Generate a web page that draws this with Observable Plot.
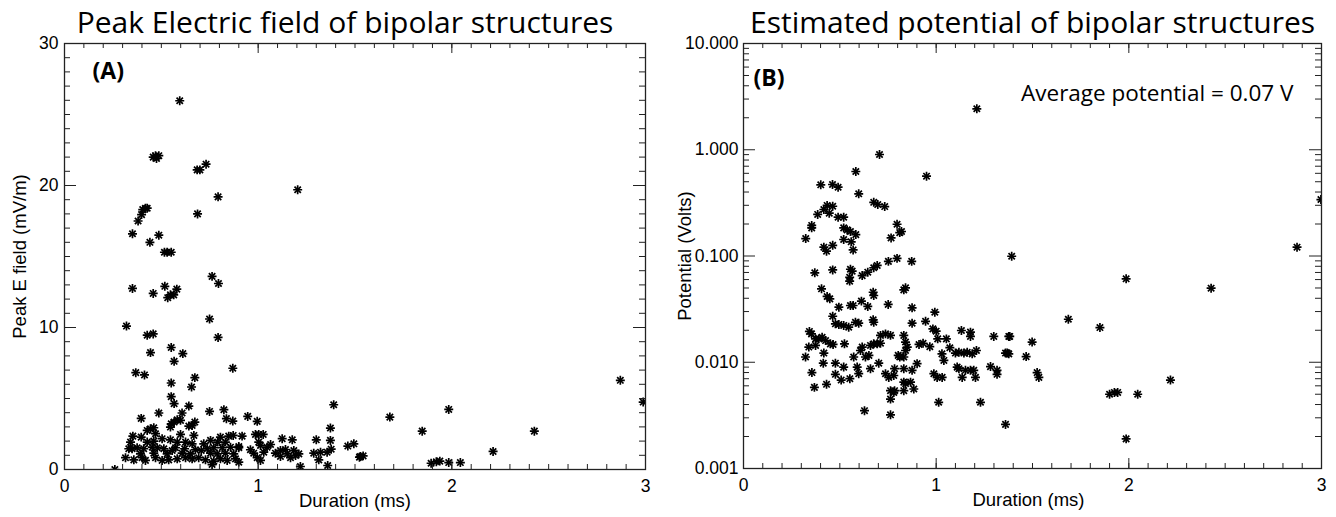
<!DOCTYPE html>
<html>
<head>
<meta charset="utf-8">
<script src="https://cdn.jsdelivr.net/npm/d3@7"></script>
<script src="https://cdn.jsdelivr.net/npm/@observablehq/plot@0.6"></script>
<style>
  html, body { margin: 0; padding: 0; background: #fff; }
  #wrap { position: relative; width: 1336px; height: 517px; overflow: hidden; }
  #wrap > div { position: absolute; top: 0; }
</style>
</head>
<body>
<div id="wrap"><div id="pa" style="left:0"></div><div id="pb" style="left:668px"></div></div>
<script>
// ---------- Data ----------
// Panel A: duration (ms) and peak E field (mV/m)
const durA = [
  0.595, 0.458, 0.470, 0.487, 0.475, 0.685, 0.699, 0.731, 1.204, 0.793,
  0.418, 0.427, 0.404, 0.398, 0.380, 0.687, 0.351, 0.487, 0.441, 0.516,
  0.530, 0.551, 0.762, 0.795, 0.351, 0.458, 0.518, 0.533, 0.547, 0.564,
  0.580, 0.320, 0.749, 0.427, 0.458, 0.793, 0.444, 0.551, 0.611, 0.566,
  0.368, 0.413, 0.869, 0.673, 0.551, 0.656, 0.551, 0.566, 0.642, 0.487,
  0.749, 0.823, 0.396, 0.582, 0.599, 0.551, 0.566, 0.607, 0.642, 0.659,
  0.673, 0.836, 0.869, 0.946, 0.995, 1.390, 1.373, 1.463, 1.494, 1.523,
  1.528, 1.542, 0.260, 1.680, 1.847, 1.984, 1.893, 1.920, 1.938, 1.984,
  2.044, 2.213, 2.426, 2.870, 2.988,
  0.547, 0.427, 0.444, 0.461, 0.353, 0.396, 0.470, 0.504, 0.547, 0.599,
  0.668, 0.754, 0.805, 0.848, 0.871, 0.917, 0.986, 1.003, 1.026, 1.124,
  1.176, 1.300, 1.373,
  0.332, 0.349, 0.375, 0.409, 0.453, 0.479, 0.513, 0.556, 0.573, 0.620,
  0.676, 0.706, 0.737, 0.771, 0.814, 0.857, 0.900, 0.960, 1.012, 1.046,
  1.064, 1.115, 1.141, 1.184, 1.287, 1.322, 1.356, 1.377,
  0.315, 0.358, 0.401, 0.418, 0.470, 0.504, 0.538, 0.582, 0.625, 0.659,
  0.693, 0.728, 0.762, 0.771, 0.805, 0.840, 0.883, 0.900, 0.995, 1.012,
  1.115, 1.167, 1.210, 1.218, 1.313, 1.359,
  0.392, 0.461, 0.530, 0.607, 0.650, 0.754, 0.788, 0.831, 0.874, 0.977,
  1.029, 1.089, 1.150, 1.193,
  0.341, 0.427, 0.461, 0.582, 0.625, 0.659, 0.719, 0.791, 0.831, 0.900, 1.003
];
const fieldA = [
  25.97, 22.0, 22.1, 22.1, 21.9, 21.1, 21.1, 21.5, 19.7, 19.2,
  18.4, 18.4, 18.3, 17.95, 17.5, 18.0, 16.6, 16.5, 16.0, 15.3,
  15.3, 15.3, 13.6, 13.1, 12.75, 12.4, 12.9, 12.1, 12.3, 12.3,
  12.7, 10.1, 10.6, 9.46, 9.55, 9.3, 8.23, 8.59, 8.16, 7.62,
  6.82, 6.66, 7.13, 6.47, 6.09, 5.81, 5.13, 4.64, 4.47, 3.98,
  4.09, 4.21, 3.6, 3.5, 3.46, 3.22, 3.34, 3.98, 3.06, 3.1,
  3.34, 3.58, 3.41, 3.74, 3.39, 4.56, 2.92, 1.65, 1.81, 0.87,
  0.92, 0.96, 0.0, 3.69, 2.70, 4.23, 0.44, 0.54, 0.59, 0.49,
  0.49, 1.27, 2.70, 6.28, 4.75,
  2.99, 2.75, 2.87, 2.94, 2.35, 2.28, 2.52, 2.17, 2.09, 2.47,
  2.4, 2.05, 2.28, 2.35, 2.4, 2.35, 2.47, 2.47, 2.47, 2.17,
  2.09, 2.09, 2.05,
  1.46, 1.46, 1.53, 1.46, 1.57, 1.53, 1.46, 1.34, 1.53, 1.46,
  1.39, 1.34, 1.46, 1.53, 1.53, 1.57, 1.53, 1.39, 1.69, 1.57,
  1.76, 1.34, 1.41, 1.34, 1.15, 1.22, 1.22, 1.43,
  0.83, 0.68, 0.83, 0.64, 0.83, 0.64, 0.68, 0.75, 0.83, 0.75,
  0.83, 0.68, 0.35, 0.59, 0.75, 0.64, 0.75, 0.52, 0.83, 0.64,
  0.92, 0.83, 1.1, 0.21, 0.68, 0.28,
  1.1, 1.15, 1.1, 1.15, 1.1, 1.15, 1.1, 1.15, 1.1, 1.15,
  1.22, 1.15, 1.1, 0.99,
  1.93, 1.93, 2.0, 1.93, 1.93, 1.81, 1.81, 1.93, 1.93, 1.62, 1.93
];

// Panel B: duration (ms) and estimated potential (V)
const durB = [
  1.211, 0.706, 0.950, 0.583, 0.401, 0.462, 0.491, 0.598, 0.676, 0.697,
  0.733, 0.434, 0.463, 0.385, 0.417, 0.445, 0.491, 0.520, 0.354, 0.354,
  0.520, 0.538, 0.555, 0.583, 0.797, 0.811, 0.766, 0.820, 0.323, 0.520,
  0.559, 0.569, 0.417, 0.431, 0.463, 1.392, 0.752, 0.797, 0.873, 0.370,
  0.463, 0.555, 0.564, 0.551, 0.551, 0.616, 0.645, 0.676, 0.694, 0.405,
  0.434, 0.448, 0.495, 0.555, 0.569, 0.612, 0.645, 0.673, 0.676, 0.751,
  0.832, 0.841, 0.875, 0.993, 0.463, 0.945, 0.875, 0.477, 0.495, 0.520,
  0.546, 0.581, 0.598, 0.673, 0.676, 0.342, 0.353, 0.391, 0.408, 0.426,
  0.451, 0.465, 0.711, 0.737, 0.763, 0.832, 0.841, 0.983, 1.000, 1.008,
  1.053, 1.131, 1.178, 1.178, 1.299, 1.377, 1.498, 0.322, 0.339, 0.374,
  0.374, 0.417, 0.414, 0.477, 0.524, 0.520, 0.477, 0.507, 0.552, 0.368,
  0.431, 0.355, 0.572, 0.607, 0.616, 0.590, 0.598, 0.633, 0.651, 0.659,
  0.659, 0.676, 0.694, 0.711, 0.702, 0.737, 0.754, 0.780, 0.803, 0.811,
  0.832, 0.841, 0.850, 0.784, 0.832, 0.875, 0.901, 0.763, 0.780, 0.832,
  0.841, 0.867, 0.884, 0.832, 0.911, 0.932, 0.967, 1.030, 1.040, 1.071,
  1.100, 1.118, 1.144, 1.161, 1.187, 1.209, 1.109, 1.118, 1.135, 1.152,
  1.178, 1.195, 1.204, 0.988, 1.005, 1.031, 1.282, 1.316, 1.316, 1.369,
  1.377, 1.467, 1.524, 1.533, 1.013, 1.230, 1.360, 0.628, 0.763, 0.763,
  0.784, 2.997, 2.873, 1.986, 2.427, 1.686, 1.850, 1.382, 1.360, 2.216,
  1.900, 1.925, 1.942, 2.046, 1.986
];
const potB = [
  2.43, 0.902, 0.564, 0.624, 0.468, 0.471, 0.444, 0.385, 0.32, 0.305,
  0.292, 0.299, 0.294, 0.246, 0.274, 0.253, 0.232, 0.232, 0.194, 0.184,
  0.184, 0.176, 0.17, 0.159, 0.199, 0.166, 0.148, 0.17, 0.146, 0.143,
  0.136, 0.114, 0.121, 0.111, 0.126, 0.0995, 0.089, 0.095, 0.089, 0.0695,
  0.074, 0.075, 0.072, 0.063, 0.058, 0.0654, 0.0704, 0.0775, 0.0815, 0.0491,
  0.0416, 0.0395, 0.033, 0.0342, 0.0342, 0.0376, 0.0335, 0.0456, 0.0425, 0.035,
  0.048, 0.0502, 0.0325, 0.0296, 0.0271, 0.0243, 0.0233, 0.023, 0.0227, 0.0222,
  0.0214, 0.0238, 0.0233, 0.0251, 0.0238, 0.0195, 0.0185, 0.0166, 0.0172, 0.016,
  0.0149, 0.0147, 0.0179, 0.0185, 0.0179, 0.0179, 0.0155, 0.0206, 0.0196, 0.0166,
  0.0166, 0.0199, 0.0192, 0.0175, 0.0175, 0.0175, 0.0155, 0.0112, 0.0139, 0.0144,
  0.0166, 0.0122, 0.0098, 0.0098, 0.0149, 0.009, 0.0077, 0.0068, 0.007, 0.0058,
  0.0062, 0.008, 0.0112, 0.0129, 0.0139, 0.009, 0.0078, 0.0112, 0.0116, 0.0087,
  0.0144, 0.0149, 0.0149, 0.0151, 0.0098, 0.0078, 0.0072, 0.0075, 0.0116, 0.0112,
  0.0112, 0.0129, 0.0139, 0.0087, 0.0087, 0.0084, 0.0097, 0.0054, 0.0052, 0.0065,
  0.0063, 0.0065, 0.0056, 0.0054, 0.0147, 0.0151, 0.014, 0.012, 0.0104, 0.0137,
  0.0122, 0.0124, 0.0122, 0.0124, 0.012, 0.0129, 0.009, 0.0087, 0.0072, 0.0084,
  0.0084, 0.0084, 0.0072, 0.0078, 0.0072, 0.0072, 0.0091, 0.0084, 0.0077, 0.0122,
  0.012, 0.0113, 0.008, 0.0072, 0.0042, 0.0042, 0.0026, 0.0035, 0.0032, 0.0045,
  0.0054, 0.34, 0.121, 0.061, 0.0498, 0.0254, 0.0212, 0.0175, 0.0122, 0.0068,
  0.005, 0.0052, 0.0052, 0.005, 0.0019
];

// Axis ticks and labels
const xMajor = [0, 1, 2, 3];
const xTickLabels = ["0", "1", "2", "3"];
const yMajorA = [0, 10, 20, 30];
const yTickLabelsA = ["0", "10", "20", "30"];
const yMajorB = [0.001, 0.01, 0.1, 1, 10];
const yTickLabelsB = ["0.001", "0.010", "0.100", "1.000", "10.000"];
const titleA = "Peak Electric field of bipolar structures";
const titleB = "Estimated potential of bipolar structures";
const xLabel = "Duration (ms)";
const yLabelA = "Peak E field (mV/m)";
const yLabelB = "Potential (Volts)";
const panelA = "(A)";
const panelB = "(B)";
const noteB = "Average potential = 0.07 V";

// ---------- Build ----------
const xMinor = d3.range(0, 3.0001, 0.1);
const yMinorA = d3.range(0, 30.5, 1);
const yMinorB = [];
for (const dec of [0.001, 0.01, 0.1, 1]) for (let k = 2; k <= 9; k++) yMinorB.push(k * dec);

const A = durA.map((d, i) => ({d, v: fieldA[i]}));
const B = durB.map((d, i) => ({d, v: potB[i]}));

const W = 668, H = 517;
const SANS = "Liberation Sans";
const TITLE = "Open Sans";
const TICK = "#222";
const LAB = 18.5, TL = 17.5;

function tickMarks(fw, fh, xMin, xMaj, yMin, yMaj) {
  return [
    Plot.tickX(xMin, {x: d => d, insetTop: fh - 5, stroke: TICK}),
    Plot.tickX(xMin, {x: d => d, insetBottom: fh - 5, stroke: TICK}),
    Plot.tickX(xMaj, {x: d => d, insetTop: fh - 10, stroke: TICK}),
    Plot.tickX(xMaj, {x: d => d, insetBottom: fh - 10, stroke: TICK}),
    Plot.tickY(yMin, {y: d => d, insetRight: fw - 6, stroke: TICK}),
    Plot.tickY(yMin, {y: d => d, insetLeft: fw - 6, stroke: TICK}),
    Plot.tickY(yMaj, {y: d => d, insetRight: fw - 12, stroke: TICK}),
    Plot.tickY(yMaj, {y: d => d, insetLeft: fw - 12, stroke: TICK})
  ];
}
function tickLabels(yMaj, yLabs, yPad) {
  return [
    Plot.text(xMajor, {x: d => d, text: (d, i) => xTickLabels[i], frameAnchor: "bottom", lineAnchor: "top", dy: 10,
      fontSize: TL, fontFamily: SANS, fill: "black"}),
    Plot.text(yMaj, {y: d => d, text: (d, i) => yLabs[i], frameAnchor: "left", textAnchor: "end", dx: -yPad,
      fontSize: TL, fontFamily: SANS, fill: "black"})
  ];
}
function stars(data) {
  return [
    Plot.dot(data, {x: "d", y: "v", symbol: "plus", r: 3, stroke: "black", strokeWidth: 1.7, clip: true}),
    Plot.dot(data, {x: "d", y: "v", symbol: "times", r: 3, stroke: "black", strokeWidth: 1.7, clip: true})
  ];
}

// Panel A
{
  const m = {l: 64, r: 23, t: 43, b: 48};
  const fw = W - m.l - m.r, fh = H - m.t - m.b;
  const plot = Plot.plot({
    width: W, height: H,
    marginLeft: m.l, marginRight: m.r, marginTop: m.t, marginBottom: m.b,
    style: {fontFamily: SANS, background: "white", overflow: "visible", color: "black"},
    x: {domain: [0, 3], axis: null},
    y: {domain: [0, 30], axis: null},
    marks: [
      ...stars(A),
      ...tickMarks(fw, fh, xMinor, xMajor, yMinorA, yMajorA),
      Plot.frame({stroke: "#222", strokeWidth: 1.3}),
      ...tickLabels(yMajorA, yTickLabelsA, 6),
      Plot.text([xLabel], {frameAnchor: "bottom", dy: 37, textAnchor: "middle", fontSize: LAB, fontFamily: SANS, fill: "black"}),
      Plot.text([yLabelA], {frameAnchor: "left", dx: -44, rotate: -90, textAnchor: "middle", fontSize: LAB, fontFamily: SANS, fill: "black"}),
      Plot.text([titleA], {frameAnchor: "top", dx: -10, dy: -11, lineAnchor: "bottom", fontSize: 30, fontFamily: TITLE, fill: "black"}),
      Plot.text([panelA], {frameAnchor: "top-left", dx: 28, dy: 35, lineAnchor: "bottom", textAnchor: "start", fontSize: 23, fontWeight: "bold", fontFamily: TITLE, fill: "black"})
    ]
  });
  document.getElementById("pa").appendChild(plot);
}

// Panel B
{
  const m = {l: 75, r: 15, t: 43, b: 49};
  const fw = W - m.l - m.r, fh = H - m.t - m.b;
  const plot = Plot.plot({
    width: W, height: H,
    marginLeft: m.l, marginRight: m.r, marginTop: m.t, marginBottom: m.b,
    style: {fontFamily: SANS, background: "white", overflow: "visible", color: "black"},
    x: {domain: [0, 3], axis: null},
    y: {type: "log", domain: [0.001, 10], axis: null},
    marks: [
      ...stars(B),
      ...tickMarks(fw, fh, xMinor, xMajor, yMinorB, yMajorB),
      Plot.frame({stroke: "#222", strokeWidth: 1.3}),
      ...tickLabels(yMajorB, yTickLabelsB, 5),
      Plot.text([xLabel], {frameAnchor: "bottom", dy: 37, dx: -4, textAnchor: "middle", fontSize: LAB, fontFamily: SANS, fill: "black"}),
      Plot.text([yLabelB], {frameAnchor: "left", dx: -58, rotate: -90, textAnchor: "middle", fontSize: LAB, fontFamily: SANS, fill: "black"}),
      Plot.text([titleB], {frameAnchor: "top", dy: -11, lineAnchor: "bottom", fontSize: 30, fontFamily: TITLE, fill: "black"}),
      Plot.text([panelB], {frameAnchor: "top-left", dx: 10, dy: 42, lineAnchor: "bottom", textAnchor: "start", fontSize: 23, fontWeight: "bold", fontFamily: TITLE, fill: "black"}),
      Plot.text([noteB], {frameAnchor: "top-right", dx: -28, dy: 57, lineAnchor: "bottom", textAnchor: "end", fontSize: 22.5, fontFamily: TITLE, fill: "black"})
    ]
  });
  document.getElementById("pb").appendChild(plot);
}
</script>
</body>
</html>
